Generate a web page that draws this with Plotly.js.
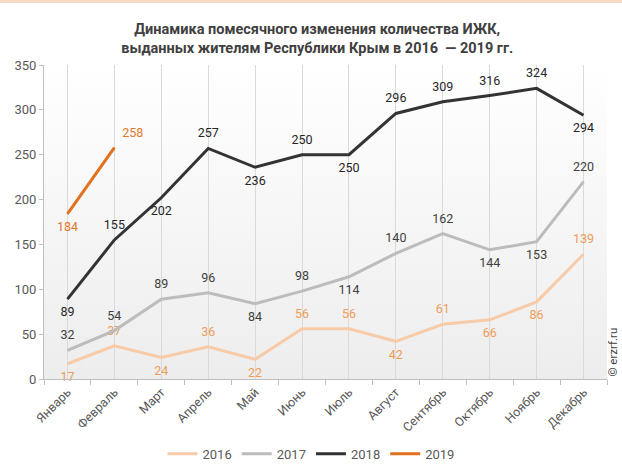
<!DOCTYPE html>
<html>
<head>
<meta charset="utf-8">
<script src="https://cdn.plot.ly/plotly-3.0.1.min.js"></script>
<style>
  html, body { margin: 0; padding: 0; background: #fff; }
  #chart { width: 622px; height: 474px; box-sizing: border-box; border-top: 3px solid #f6dcc4; }
</style>
</head>
<body>
<div id="chart"></div>
<script>
// months and yearly series
const months = ['Январь', 'Февраль', 'Март', 'Апрель', 'Май', 'Июнь', 'Июль',
    'Август', 'Сентябрь', 'Октябрь', 'Ноябрь', 'Декабрь']
const years = ['2016', '2017', '2018', '2019']
const values2016 = [17, 37, 24, 36, 22, 56, 56, 42, 61, 66, 86, 139]
const values2017 = [32, 54, 89, 96, 84, 98, 114, 140, 162, 144, 153, 220]
const values2018 = [89, 155, 202, 257, 236, 250, 250, 296, 309, 316, 324, 294]
const values2019 = [184, 258]

// where each label sits relative to its point
const side2016 = ['b', 't', 'b', 't', 'b', 't', 't', 'b', 't', 'b', 'b', 't']
const side2017 = ['t', 't', 't', 't', 'b', 't', 'b', 't', 't', 'b', 'b', 't']
const side2018 = ['b', 't', 'b', 't', 'b', 't', 'b', 't', 't', 't', 't', 'b']
const side2019 = ['b', 'tr']

const posName = { t: 'top center', b: 'bottom center', tr: 'top right' }

const lineColors = ['#f8cba8', '#bcbcbc', '#333333', '#e2701c']
const labelColors = ['#ee9d58', '#404040', '#262626', '#e2782a']

const series = [values2016, values2017, values2018, values2019]
const sides = [side2016, side2017, side2018, side2019]

const data = series.map((vals, k) => {
    return {
        x: vals.map((v, i) => i),
        y: vals,
        text: vals.map(String),
        textposition: sides[k].map(s => posName[s]),
        textfont: { family: 'Roboto', size: 12.5, color: labelColors[k] },
        mode: 'lines+markers+text',
        marker: { size: 11, color: 'rgba(0,0,0,0)' },
        name: years[k],
        line: { color: lineColors[k], width: 3 },
        cliponaxis: false,
        hoverinfo: 'skip'
    }
})

const centers = months.map((m, i) => i)
const bounds = months.map((m, i) => i - 0.5).concat([months.length - 0.5])

const bgSvg = '<svg xmlns="http://www.w3.org/2000/svg" width="10" height="100" preserveAspectRatio="none">' +
    '<defs><linearGradient id="g" x1="0" y1="0" x2="0" y2="1">' +
    '<stop offset="0" stop-color="#ffffff"/><stop offset="1" stop-color="#ededed"/>' +
    '</linearGradient></defs><rect width="10" height="100" fill="url(#g)"/></svg>'

const layout = {
    width: 622,
    height: 471,
    title: {
        text: '<b>Динамика помесячного изменения количества ИЖК,<br>выданных жителям Республики Крым в 2016  — 2019 гг.</b>',
        font: { family: 'Roboto', size: 14.5, color: '#404040' },
        x: 0.51,
        xanchor: 'center',
        yref: 'paper',
        y: 1.065,
        yanchor: 'bottom'
    },
    xaxis: {
        range: [-0.5, 11.5],
        tickvals: centers,
        ticktext: months,
        tickangle: -45,
        ticks: '',
        showgrid: true,
        gridcolor: '#dadada',
        gridwidth: 1,
        showline: true,
        linecolor: '#bfbfbf',
        zeroline: false,
        automargin: false,
        tickfont: { family: 'Roboto', size: 12.5, color: '#595959' },
        minor: {
            tickvals: bounds,
            ticks: 'outside',
            ticklen: 5,
            tickcolor: '#bfbfbf',
            showgrid: false
        },
        fixedrange: true
    },
    yaxis: {
        range: [0, 350],
        dtick: 50,
        ticks: 'outside',
        ticklen: 4,
        tickcolor: '#bfbfbf',
        showgrid: false,
        showline: true,
        linecolor: '#bfbfbf',
        zeroline: false,
        automargin: false,
        tickfont: { family: 'Roboto', size: 13, color: '#595959' },
        fixedrange: true
    },
    images: [{
        source: 'data:image/svg+xml;charset=utf-8,' + encodeURIComponent(bgSvg),
        xref: 'paper',
        yref: 'paper',
        x: 0,
        y: 1,
        sizex: 1,
        sizey: 1,
        xanchor: 'left',
        yanchor: 'top',
        sizing: 'stretch',
        layer: 'below'
    }],
    annotations: [{
        text: '© erzrf.ru',
        xref: 'paper',
        yref: 'paper',
        x: 1.009,
        y: 0,
        xanchor: 'center',
        yanchor: 'bottom',
        textangle: -90,
        showarrow: false,
        font: { family: 'Roboto', size: 11.5, color: '#404040' }
    }],
    legend: {
        orientation: 'h',
        xref: 'container',
        yref: 'container',
        x: 0.5,
        xanchor: 'center',
        y: 0.043,
        yanchor: 'middle',
        itemwidth: 30,
        font: { family: 'Roboto', size: 13, color: '#595959' }
    },
    margin: { l: 44, r: 15, t: 62, b: 95 },
    paper_bgcolor: '#ffffff',
    plot_bgcolor: 'rgba(0,0,0,0)'
}

Plotly.newPlot('chart', data, layout, { displayModeBar: false, staticPlot: true })
</script>
</body>
</html>
